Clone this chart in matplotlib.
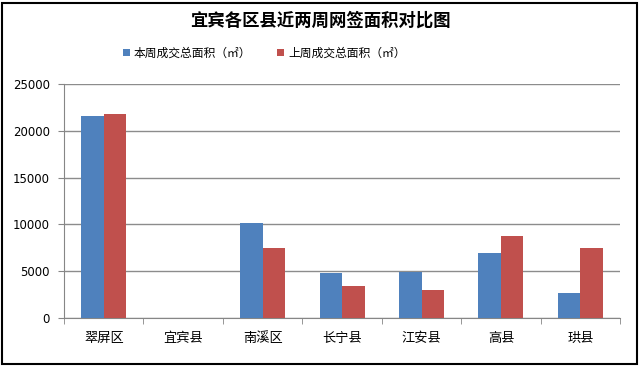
import matplotlib.pyplot as plt
import numpy as np
from matplotlib.patches import Rectangle

plt.rcParams['font.family'] = ['Noto Sans CJK SC', 'DejaVu Sans']

# ============================================
# Data
# ============================================

districts = ["翠屏区", "宜宾县", "南溪区", "长宁县", "江安县", "高县", "珙县"]
this_week = [21600, 0, 10100, 4770, 4950, 6900, 2700]
last_week = [21800, 0, 7500, 3420, 3000, 8750, 7500]
series_names = ["本周成交总面积（㎡）", "上周成交总面积（㎡）"]
y_ticks = [0, 5000, 10000, 15000, 20000, 25000]

# ============================================
# Chart
# ============================================

fig = plt.figure(figsize=(6.4, 3.67), dpi=100)
ax = fig.add_axes([0.1, 0.1335, 0.869, 0.6375])

x = np.arange(len(districts))
w = 0.283

ax.bar(x - w / 2, this_week, w, color="#4F81BD", label=series_names[0], zorder=3)
ax.bar(x + w / 2, last_week, w, color="#C0504D", label=series_names[1], zorder=3)

ax.set_xlim(-0.5, len(districts) - 0.5)
ax.set_ylim(0, 25000)
ax.set_yticks(y_ticks)
ax.set_yticklabels([str(v) for v in y_ticks], fontsize=8.5, family=['DejaVu Sans'])

ax.set_xticks(x)
ax.set_xticklabels(districts, fontsize=9.5)
ax.set_xticks(np.arange(-0.5, len(districts)), minor=True)
ax.tick_params(axis="x", which="major", length=0, pad=10)
ax.tick_params(axis="x", which="minor", length=4, color="#868686")
ax.tick_params(axis="y", length=4, color="#868686", pad=6)

ax.grid(axis="y", color="#8c8c8c", linewidth=1, zorder=0)
for side in ["top", "right"]:
    ax.spines[side].set_visible(False)
for side in ["left", "bottom"]:
    ax.spines[side].set_color("#868686")

fig.text(0.5, 0.945, "宜宾各区县近两周网签面积对比图",
         ha="center", va="center", fontsize=12.5, fontweight="bold")

fig.legend(loc="center", bbox_to_anchor=(0.413, 0.855), ncol=2, frameon=False,
           fontsize=8.5, handlelength=0.6, handleheight=0.6,
           handletextpad=0.3, columnspacing=2.2)

# outer frame
fig.patches.append(Rectangle((0.003, 0.008), 0.992, 0.985, transform=fig.transFigure,
                             fill=False, edgecolor="black", linewidth=1.5))

fig.savefig("out.png", dpi=100)
